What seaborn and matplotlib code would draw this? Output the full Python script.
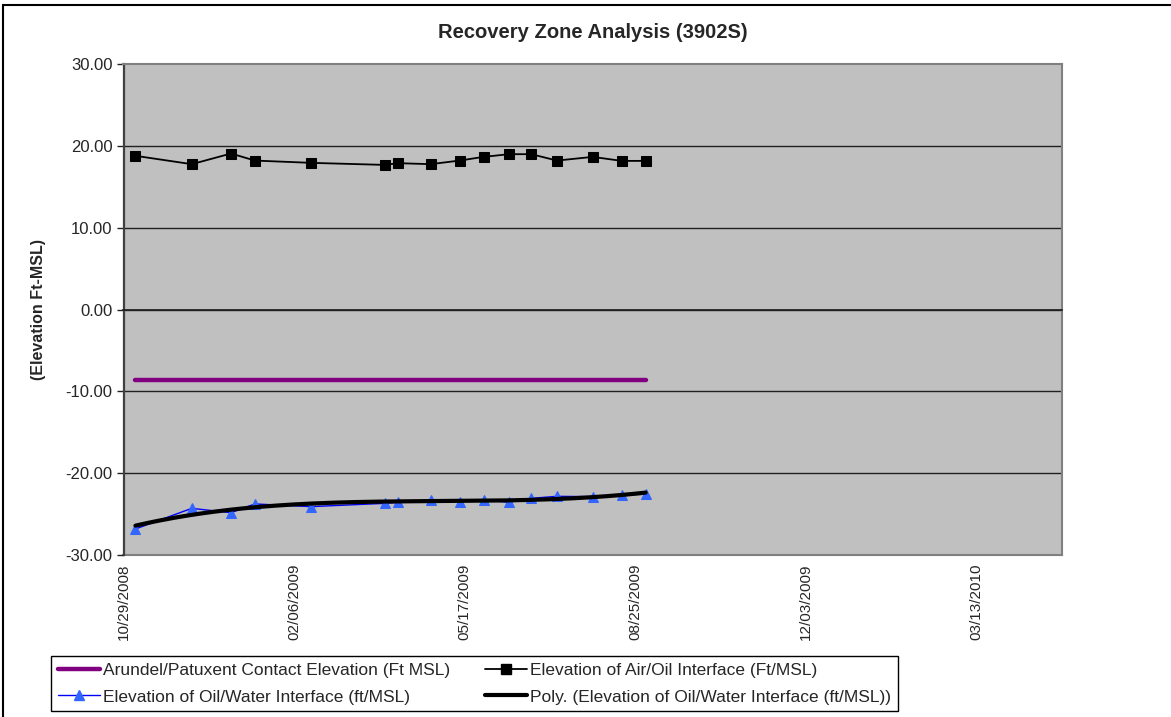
import numpy as np
import pandas as pd
import matplotlib
matplotlib.use("Agg")
import matplotlib.pyplot as plt
import matplotlib.dates as mdates
import matplotlib.patches as mpatches
from matplotlib.lines import Line2D
import seaborn as sns

# ---------------- data ----------------
dates = ["2008-11-05", "2008-12-08", "2008-12-31", "2009-01-14", "2009-02-16",
         "2009-03-31", "2009-04-08", "2009-04-27", "2009-05-14", "2009-05-28",
         "2009-06-12", "2009-06-25", "2009-07-10", "2009-07-31", "2009-08-17",
         "2009-08-31"]
air_oil = [18.78, 17.76, 19.06, 18.20, 17.92, 17.67, 17.88, 17.76, 18.20, 18.65,
           18.98, 18.98, 18.20, 18.65, 18.16, 18.16]
oil_water = [-26.82, -24.30, -24.83, -23.76, -24.09, -23.69, -23.56, -23.27, -23.48,
             -23.27, -23.56, -23.07, -22.83, -22.87, -22.71, -22.54]
contact = [-8.62, -8.62, -8.62, -8.62, -8.62, -8.62, -8.62, -8.62, -8.62, -8.62,
           -8.62, -8.62, -8.62, -8.62, -8.62, -8.62]
tick_labels = ["10/29/2008", "02/06/2009", "05/17/2009", "08/25/2009",
               "12/03/2009", "03/13/2010"]
y_ticks = [30, 20, 10, 0, -10, -20, -30]

title = "Recovery Zone Analysis (3902S)"
ylabel = "(Elevation Ft-MSL)"
lbl_contact = "Arundel/Patuxent Contact Elevation (Ft MSL)"
lbl_air = "Elevation of Air/Oil Interface (Ft/MSL)"
lbl_water = "Elevation of Oil/Water Interface (ft/MSL)"
lbl_poly = "Poly. (Elevation of Oil/Water Interface (ft/MSL))"

# ---------------- style ----------------
sns.set_theme(style="white")
plt.rcParams["font.family"] = ["Liberation Sans", "DejaVu Sans"]

df = pd.DataFrame({"date": pd.to_datetime(dates), "air": air_oil,
                   "water": oil_water, "contact": contact})
df["num"] = mdates.date2num(df["date"])

# polynomial trendline (Excel-like) on the oil/water series
poly = np.polynomial.Polynomial.fit(df["num"], df["water"], 3)
trend_x = np.linspace(df["num"].min(), df["num"].max(), 200)
trend = pd.DataFrame({"num": trend_x, "val": poly(trend_x)})

fig = plt.figure(figsize=(11.71, 7.17), dpi=100)
ax = fig.add_axes([123.5 / 1171, 1 - 555 / 717, (1062 - 123.5) / 1171, (555 - 64) / 717])
ax.set_facecolor("#C0C0C0")

ax.grid(False)
for yv in y_ticks[1:-1]:
    ax.axhline(yv, color="#202020", lw=1.0, zorder=1)

sns.lineplot(data=df, x="num", y="contact", ax=ax, color="#800080", lw=3.2,
             solid_capstyle="round", zorder=3, legend=False)
sns.lineplot(data=df, x="num", y="air", ax=ax, color="black", lw=1.3,
             marker="s", markersize=7.5, markeredgecolor="black", zorder=4, legend=False)
sns.lineplot(data=df, x="num", y="water", ax=ax, color="#0000FF", lw=1.0,
             marker="^", markersize=7.5, markerfacecolor="#3366FF",
             markeredgecolor="#3366FF", zorder=4, legend=False)
sns.lineplot(data=trend, x="num", y="val", ax=ax, color="black", lw=3.0,
             zorder=5, legend=False)

start = pd.Timestamp("2008-10-29")
xmin = mdates.date2num(start)
ax.set_xlim(xmin, xmin + 550)
ax.set_ylim(-30, 30)
ax.set_yticks(y_ticks)
ax.set_yticklabels([f"{v:.2f}" for v in y_ticks])
ax.set_xlabel("")
ax.set_ylabel(ylabel, fontsize=11.5, fontweight="bold")
ax.yaxis.set_label_coords((46 - 123.5) / 938.5, 0.5)

tick_pos = mdates.date2num(pd.to_datetime(tick_labels, format="%m/%d/%Y"))

# main x axis crosses at 0 with tick marks, labels at bottom via secondary axis
ax.spines["bottom"].set_position(("data", 0))
ax.spines["bottom"].set_color("#202020")
ax.set_xticks(tick_pos)
ax.tick_params(axis="x", direction="out", length=5, width=1, color="#202020",
               labelbottom=False)
ax.tick_params(axis="y", direction="out", length=5, width=1, color="#202020",
               labelsize=12, pad=3, left=True)
for s in ["top", "right"]:
    ax.spines[s].set_color("#808080")
    ax.spines[s].set_linewidth(1.5)
ax.spines["left"].set_color("#404040")
ax.spines["left"].set_linewidth(1.6)

sec = ax.secondary_xaxis("bottom")
sec.set_xticks(tick_pos)
sec.set_xticklabels(tick_labels, rotation=90, fontsize=11)
sec.tick_params(length=0, pad=6)
sec.spines["bottom"].set_color("#808080")
sec.spines["bottom"].set_linewidth(1.5)

fig.text(593 / 1171, 1 - 32 / 717, title, ha="center", va="center",
         fontsize=14.5, fontweight="bold")

handles = [
    Line2D([], [], color="#800080", lw=3.2, solid_capstyle="round"),
    Line2D([], [], color="#0000FF", lw=1.0, marker="^", markersize=7.5,
           markerfacecolor="#3366FF", markeredgecolor="#3366FF"),
    Line2D([], [], color="black", lw=1.3, marker="s", markersize=7.5),
    Line2D([], [], color="black", lw=3.0),
]
labels = [lbl_contact, lbl_water, lbl_air, lbl_poly]
leg = fig.legend(handles, labels, loc="upper left", ncol=2,
                 bbox_to_anchor=(51 / 1171, 1 - 656 / 717), frameon=True,
                 fancybox=False, edgecolor="black", framealpha=1, fontsize=12.5,
                 handlelength=2.4, handletextpad=0.2, columnspacing=2.0,
                 labelspacing=0.65, borderpad=0.4, borderaxespad=0)
leg.get_frame().set_linewidth(1.0)

# outer chart-area frame (partially visible)
fig.patches.append(mpatches.Rectangle((3 / 1171, -0.2), 1.5, 1.2 - 5 / 717,
                                      transform=fig.transFigure, fill=False,
                                      edgecolor="black", lw=1.5))

fig.savefig("out.png", dpi=100)
